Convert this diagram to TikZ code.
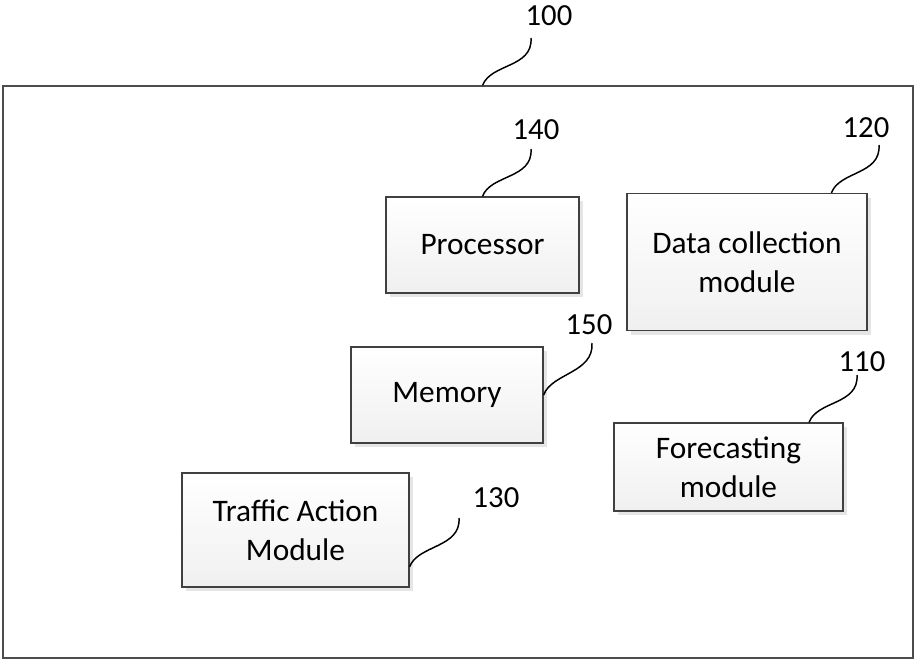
\documentclass[tikz,border=0pt]{standalone}
\usepackage{fontspec}
\setmainfont{Carlito}
\usetikzlibrary{calc,shadows}

\tikzset{
  modbox/.style={draw=black!75, line width=0.9pt, top color=white, bottom color=black!6,
    drop shadow={shadow xshift=3pt, shadow yshift=-3pt, fill=black!10, opacity=1},
    align=center, inner sep=0pt, font=\fontsize{23.5}{29}\selectfont},
  sysframe/.style={draw=black!70, line width=0.9pt},
  reflabel/.style={inner sep=0pt, font=\fontsize{23}{27}\selectfont},
  leader/.style={line width=1.1pt}
}

\begin{document}
\begin{tikzpicture}[x=0.75pt, y=-0.75pt]
\useasboundingbox (0,0) rectangle (915,660);

% system frame and modules
\node[sysframe, minimum width=682.5pt, minimum height=429pt] (sys) at (458,372) {};
\node[modbox, minimum width=144.75pt, minimum height=72pt] (proc) at (482.5,245) {Processor};
\node[modbox, minimum width=180pt, minimum height=102.75pt] (dcm) at (747,262) {Data collection\\module};
\node[modbox, minimum width=144pt, minimum height=72pt] (mem) at (447,395) {Memory};
\node[modbox, minimum width=171.75pt, minimum height=66pt] (fcm) at (728.5,467) {Forecasting\\module};
\node[modbox, minimum width=170.25pt, minimum height=85.5pt] (tam) at (295.5,530) {Traffic Action\\Module};

% reference numerals
\node[reflabel] (l100) at (549,16) {100};
\node[reflabel] (l140) at (536,130) {140};
\node[reflabel] (l120) at (866,128) {120};
\node[reflabel] (l150) at (589,325) {150};
\node[reflabel] (l110) at (862,362) {110};
\node[reflabel] (l130) at (496,498) {130};

\coordinate (s100) at ($(sys.north west)!0.527!(sys.north east)$);
\coordinate (s120) at ($(dcm.north west)!0.85!(dcm.north east)$);
\coordinate (s110) at ($(fcm.north west)!0.85!(fcm.north east)$);
\coordinate (s130) at ($(tam.north east)!0.82!(tam.south east)$);
\coordinate (t100) at (531,38);
\coordinate (t140) at (531,149);
\coordinate (t120) at (879,145);
\coordinate (t150) at (592,343);
\coordinate (t110) at (857,375);
\coordinate (t130) at (459,518);

% leader lines
\draw[leader] (s100) .. controls +(8,-22) and +(2,30) .. (t100);
\draw[leader] (proc.north) .. controls +(8,-22) and +(2,30) .. (t140);
\draw[leader] (s120) .. controls +(8,-22) and +(2,30) .. (t120);
\draw[leader] (mem.east) .. controls +(8,-22) and +(2,30) .. (t150);
\draw[leader] (s110) .. controls +(8,-22) and +(2,30) .. (t110);
\draw[leader] (s130) .. controls +(8,-22) and +(2,30) .. (t130);
\end{tikzpicture}
\end{document}
